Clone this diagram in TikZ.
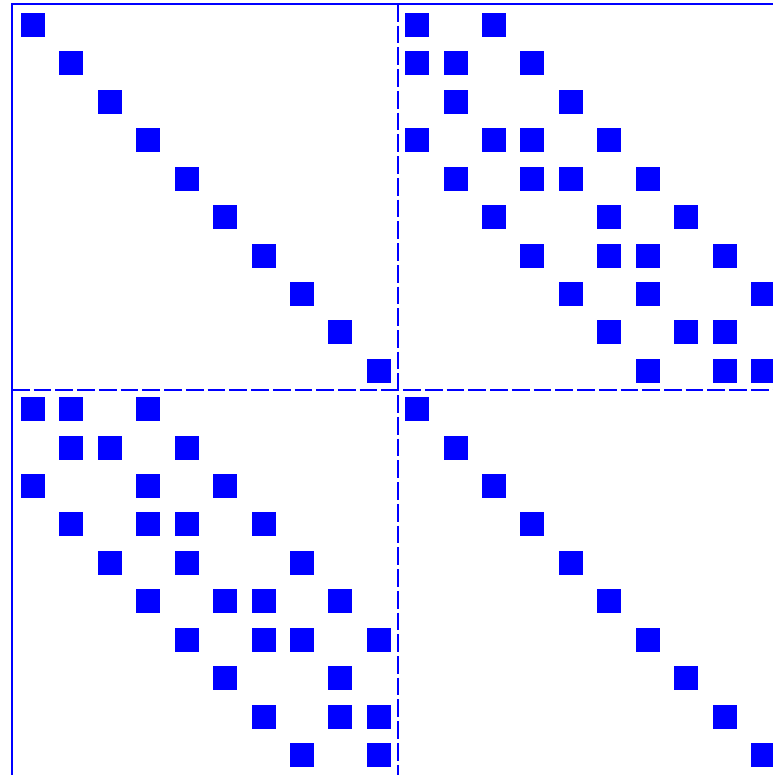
\documentclass[tikz,border=0pt]{standalone}
\usepackage{tikz}
\usepackage{xcolor}
\definecolor{spyBlue}{HTML}{0000FF}

\begin{document}
\begin{tikzpicture}[x=0.75pt,y=-0.75pt]
\useasboundingbox (0,0) rectangle (773,775);
% frame and block separators
\draw[spyBlue,line width=1.5pt] (12,775) -- (12,4) -- (773,4);
\draw[spyBlue,line width=1.2pt,dash pattern=on 13.3pt off 3pt] (398,4) -- (398,775);
\draw[spyBlue,line width=1.2pt,dash pattern=on 13.3pt off 3pt] (12,390) -- (773,390);
\newcommand{\nzrow}[2]{%
  \foreach \c in {#2}
    \node[minimum size=18pt,inner sep=0pt,fill=spyBlue] (e-#1-\c) at ({33+38.42*\c},{25+38.42*#1}) {};
}
\nzrow{0}{0,10,12}
\nzrow{1}{1,10,11,13}
\nzrow{2}{2,11,14}
\nzrow{3}{3,10,12,13,15}
\nzrow{4}{4,11,13,14,16}
\nzrow{5}{5,12,15,17}
\nzrow{6}{6,13,15,16,18}
\nzrow{7}{7,14,16,19}
\nzrow{8}{8,15,17,18}
\nzrow{9}{9,16,18,19}
\nzrow{10}{0,1,3,10}
\nzrow{11}{1,2,4,11}
\nzrow{12}{0,3,5,12}
\nzrow{13}{1,3,4,6,13}
\nzrow{14}{2,4,7,14}
\nzrow{15}{3,5,6,8,15}
\nzrow{16}{4,6,7,9,16}
\nzrow{17}{5,8,17}
\nzrow{18}{6,8,9,18}
\nzrow{19}{7,9,19}
\end{tikzpicture}
\end{document}
